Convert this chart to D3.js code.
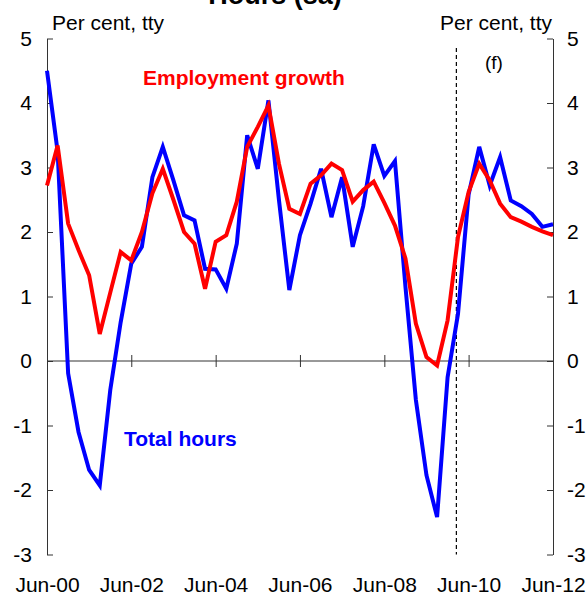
<!DOCTYPE html>
<html>
<head>
<meta charset="utf-8">
<script src="https://cdn.jsdelivr.net/npm/d3@7"></script>
<style>
  body { margin: 0; background: #fff; }
  svg { display: block; font-family: Arial, "Liberation Sans", sans-serif; }
  .axis text { font-size: 21px; fill: #000; }
  .axis path, .axis line { stroke: #333; stroke-width: 1; }
</style>
</head>
<body>
<svg id="chart" width="588" height="595"></svg>
<script>
// quarterly, Jun-00 .. Jun-12
let quarters = d3.timeMonth.range(new Date(2000, 5, 1), new Date(2012, 6, 1), 3);

let totalHours = [4.5, 3.25, -0.19, -1.1, -1.69, -1.93, -0.45, 0.6, 1.51, 1.77, 2.85, 3.32,
    2.8, 2.26, 2.18, 1.43, 1.42, 1.12, 1.82, 3.5, 2.98, 4.04, 2.5, 1.1,
    1.95, 2.44, 2.98, 2.23, 2.85, 1.77, 2.4, 3.36, 2.87, 3.1, 1.15, -0.6,
    -1.77, -2.42, -0.25, 0.73, 2.58, 3.32, 2.72, 3.16, 2.49, 2.4, 2.28, 2.08, 2.12];

let employment = [2.72, 3.34, 2.13, 1.72, 1.33, 0.42, 1.06, 1.69, 1.56, 2.0, 2.6, 2.98,
    2.5, 2.0, 1.82, 1.12, 1.85, 1.95, 2.47, 3.32, 3.63, 3.96, 3.06, 2.36,
    2.28, 2.75, 2.88, 3.06, 2.96, 2.47, 2.65, 2.78, 2.45, 2.1, 1.59, 0.58,
    0.06, -0.07, 0.63, 1.92, 2.62, 3.06, 2.8, 2.44, 2.23, 2.16, 2.08, 2.01, 1.95];

let xTickLabels = ['Jun-00', 'Jun-02', 'Jun-04', 'Jun-06', 'Jun-08', 'Jun-10', 'Jun-12'];
let yTicks = [-3, -2, -1, 0, 1, 2, 3, 4, 5];
let forecastStart = new Date(2010, 1, 15);

let svg = d3.select('#chart');
let size = {left: 47, right: 553, top: 38.5, bottom: 554.5};

let parseLabel = d3.timeParse('%b-%y');

let x = d3.scaleTime()
    .domain([quarters[0], quarters[quarters.length - 1]])
    .range([size.left, size.right]);

let y = d3.scaleLinear()
    .domain([-3, 5])
    .range([size.bottom, size.top]);

//AXES
svg.append('g')
    .classed('axis', true)
    .attr('transform', `translate(${size.left},0)`)
    .call(d3.axisLeft(y).tickValues(yTicks).tickSize(-6).tickSizeOuter(0).tickPadding(15)
        .tickFormat(d => String(d)));

svg.append('g')
    .classed('axis', true)
    .attr('transform', `translate(${size.right},0)`)
    .call(d3.axisRight(y).tickValues(yTicks).tickSize(-6).tickSizeOuter(0).tickPadding(14)
        .tickFormat(d => String(d)));

// zero line with ticks crossing it
svg.append('line')
    .attr('x1', size.left).attr('x2', size.right)
    .attr('y1', y(0)).attr('y2', y(0))
    .attr('stroke', '#333');

svg.append('g')
    .classed('axis', true)
    .attr('transform', `translate(0,${y(0) - 6})`)
    .call(d3.axisBottom(x).tickValues(xTickLabels.map(parseLabel)).tickSize(12).tickFormat(''))
    .call(g => g.select('.domain').remove());

svg.append('g')
    .classed('axis', true)
    .attr('transform', `translate(0,${size.bottom})`)
    .call(d3.axisBottom(x).tickValues(xTickLabels.map(parseLabel)).tickSize(0).tickPadding(23)
        .tickFormat(d3.timeFormat('%b-%y')))
    .call(g => g.select('.domain').remove());

// forecast divider
svg.append('line')
    .attr('x1', x(forecastStart)).attr('x2', x(forecastStart))
    .attr('y1', 48).attr('y2', size.bottom)
    .attr('stroke', '#000')
    .attr('stroke-width', 1.2)
    .attr('stroke-dasharray', '4,3');

//LINES
let line = d3.line()
    .x((d, i) => x(quarters[i]))
    .y(d => y(d));

svg.append('path')
    .datum(totalHours)
    .attr('d', line)
    .attr('fill', 'none')
    .attr('stroke', '#0000ff')
    .attr('stroke-width', 4)
    .attr('stroke-linejoin', 'miter');

svg.append('path')
    .datum(employment)
    .attr('d', line)
    .attr('fill', 'none')
    .attr('stroke', '#ff0000')
    .attr('stroke-width', 4)
    .attr('stroke-linejoin', 'miter');

//TEXTS
svg.append('text')
    .attr('x', 275).attr('y', 4)
    .attr('text-anchor', 'middle')
    .style('font-size', '27px').style('font-weight', 'bold')
    .text('Hours (sa)');

svg.append('text')
    .attr('x', 52).attr('y', 30)
    .style('font-size', '21px')
    .text('Per cent, tty');

svg.append('text')
    .attr('x', 552).attr('y', 30)
    .attr('text-anchor', 'end')
    .style('font-size', '21px')
    .text('Per cent, tty');

svg.append('text')
    .attr('x', 485).attr('y', 69)
    .style('font-size', '19px')
    .text('(f)');

svg.append('text')
    .attr('x', 143).attr('y', 85)
    .style('font-size', '21px').style('font-weight', 'bold')
    .attr('fill', '#ff0000')
    .text('Employment growth');

svg.append('text')
    .attr('x', 124).attr('y', 446)
    .style('font-size', '21px').style('font-weight', 'bold')
    .attr('fill', '#0000ff')
    .text('Total hours');
</script>
</body>
</html>
